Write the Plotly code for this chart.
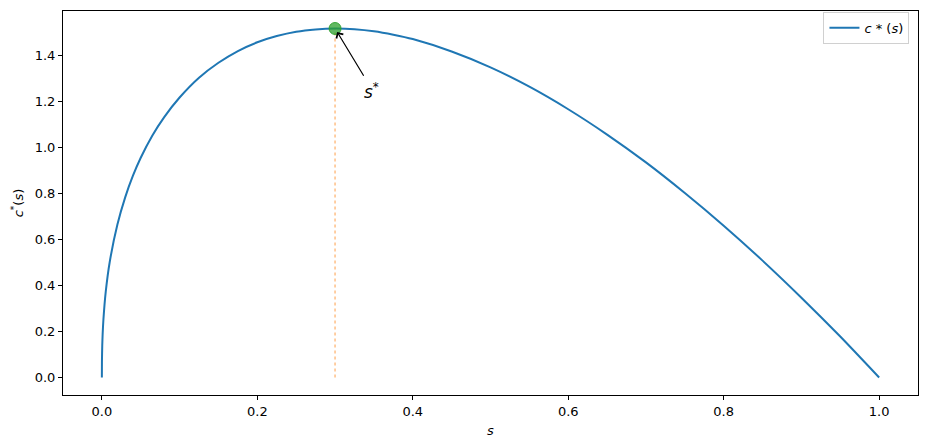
import plotly.graph_objects as go

# values
s_vals = [0.0, 0.0001, 0.0005, 0.001, 0.002, 0.005, 0.01, 0.02, 0.03, 0.04, 0.05,
          0.065, 0.08, 0.1, 0.125, 0.15, 0.175, 0.2, 0.225, 0.25, 0.275, 0.3,
          0.325, 0.35, 0.375, 0.4, 0.45, 0.5, 0.55, 0.6, 0.65, 0.7, 0.75, 0.8,
          0.85, 0.9, 0.95, 1.0]
c_vals = [0.0, 0.070, 0.139, 0.188, 0.252, 0.373, 0.500, 0.665, 0.783, 0.877, 0.955,
          1.052, 1.131, 1.217, 1.303, 1.368, 1.419, 1.457, 1.484, 1.503, 1.513, 1.517,
          1.514, 1.505, 1.490, 1.471, 1.417, 1.348, 1.264, 1.166, 1.056, 0.935, 0.802, 0.660,
          0.508, 0.347, 0.178, 0.0]

s_star = 0.3
c_star = 1.517

font = "DejaVu Sans"

fig = go.Figure()

# dotted guide from the axis up to the maximum
fig.add_trace(go.Scatter(
    x=[s_star, s_star], y=[0, c_star], mode="lines",
    line=dict(color="rgba(255,127,14,0.5)", width=1.5, dash="dot"),
    showlegend=False, hoverinfo="skip"))

fig.add_trace(go.Scatter(
    x=s_vals, y=c_vals, mode="lines", name="<i>c</i> * (<i>s</i>)",
    line=dict(color="#1f77b4", width=2, shape="spline", smoothing=0.6)))

fig.add_trace(go.Scatter(
    x=[s_star], y=[c_star], mode="markers",
    marker=dict(color="rgba(44,160,44,0.75)", size=12,
                line=dict(color="rgba(44,160,44,0.9)", width=1)),
    showlegend=False))

fig.add_annotation(
    x=s_star, y=c_star, ax=0.338, ay=1.305, axref="x", ayref="y",
    text="", showarrow=True, arrowhead=4, arrowsize=1.3, arrowwidth=1.2,
    arrowcolor="black", standoff=4)
fig.add_annotation(
    x=0.347, y=1.245, text="<i>s</i><sup>*</sup>", showarrow=False,
    font=dict(family=font, size=17, color="black"), xanchor="center", yanchor="middle")

axis_common = dict(
    showgrid=False, zeroline=False, showline=True, linecolor="black", linewidth=1,
    mirror=True, ticks="outside", ticklen=4, tickcolor="black", automargin=False,
    tickfont=dict(family=font, size=13, color="black"))

fig.update_xaxes(range=[-0.05, 1.05], tickvals=[0, 0.2, 0.4, 0.6, 0.8, 1.0],
                 ticktext=["0.0", "0.2", "0.4", "0.6", "0.8", "1.0"],
                 title=dict(text="<i>s</i>", font=dict(family=font, size=13), standoff=8),
                 **axis_common)
fig.update_yaxes(range=[-0.076, 1.593],
                 tickvals=[0, 0.2, 0.4, 0.6, 0.8, 1.0, 1.2, 1.4],
                 ticktext=["0.0", "0.2", "0.4", "0.6", "0.8", "1.0", "1.2", "1.4"],
                 title=dict(text="<i>c</i><sup>*</sup>(<i>s</i>)", font=dict(family=font, size=13), standoff=8),
                 **axis_common)

fig.update_layout(
    width=926, height=448,
    margin=dict(l=63, r=8, t=11, b=53),
    plot_bgcolor="white", paper_bgcolor="white",
    font=dict(family=font, size=13, color="black"),
    legend=dict(x=0.99, y=0.998, xanchor="right", yanchor="top",
                bordercolor="#d0d0d0", borderwidth=1, bgcolor="white",
                font=dict(family=font, size=13)),
)

# drop the page margin so the figure fills the 926x448 window
page_fix = (
    "document.body.style.margin='0';"
    "document.body.style.overflow='hidden';"
    "var gd=document.getElementById('{plot_id}');"
    "Plotly.relayout(gd,{width:926,height:448});"
)

fig.write_html("out.html", post_script=page_fix, config={"displayModeBar": False})
